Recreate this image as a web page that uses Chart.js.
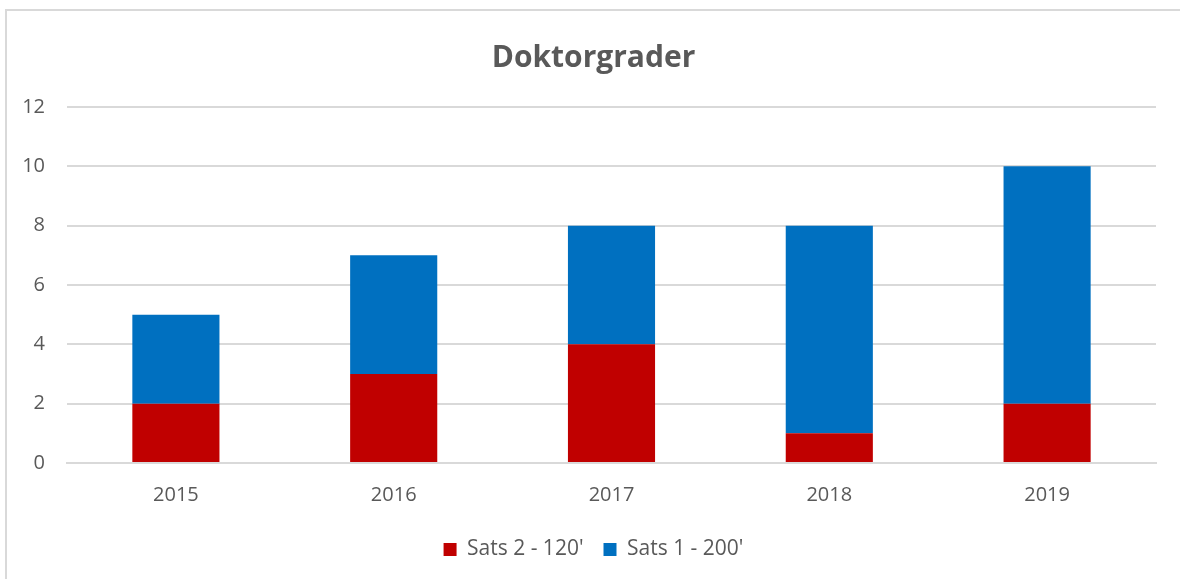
<!DOCTYPE html>
<html>
<head>
<meta charset="utf-8">
<script src="https://cdn.jsdelivr.net/npm/chart.js@4.4.0/dist/chart.umd.min.js"></script>
<style>
  html, body { margin: 0; padding: 0; background: #fff; }
  #wrap { position: absolute; left: 5px; top: 9px; width: 1175px; height: 570px;
          border-left: 2px solid #d9d9d9; border-top: 2px solid #d9d9d9; }
</style>
</head>
<body>
<div id="wrap"><canvas id="myChart" width="1173" height="568"></canvas></div>
<script>
const years = ['2015', '2016', '2017', '2018', '2019'];
const sats2 = [2, 3, 4, 1, 2];
const sats1 = [3, 4, 4, 7, 8];
const yTicks = [0, 2, 4, 6, 8, 10, 12];

const fontFam = "'Open Sans', 'Noto Sans', sans-serif";

new Chart(document.getElementById('myChart'), {
    type: 'bar',
    data: {
        labels: years,
        datasets: [
            { label: "Sats 2 - 120'", data: sats2, backgroundColor: '#C00000' },
            { label: "Sats 1 - 200'", data: sats1, backgroundColor: '#0070C0' }
        ]
    },
    options: {
        responsive: false,
        animation: false,
        layout: { padding: { left: 0, right: 0, top: 0, bottom: 9 } },
        datasets: { bar: { barPercentage: 0.4, categoryPercentage: 1 } },
        plugins: {
            title: {
                display: true,
                text: 'Doktorgrader',
                color: '#595959',
                font: { family: fontFam, size: 30, weight: 'bold' },
                padding: { top: 29, bottom: 31 }
            },
            legend: {
                position: 'bottom',
                labels: {
                    color: '#595959',
                    font: { family: fontFam, size: 21 },
                    boxWidth: 13, boxHeight: 13,
                    padding: 20
                }
            },
            tooltip: { enabled: false }
        },
        scales: {
            x: {
                stacked: true,
                grid: { display: false },
                border: { display: true, color: '#d9d9d9', width: 2 },
                ticks: { color: '#595959', font: { family: fontFam, size: 20 }, padding: 12 }
            },
            y: {
                stacked: true,
                min: 0, max: 12,
                afterBuildTicks: (axis) => { axis.ticks = yTicks.map(v => ({ value: v })); },
                afterFit: (axis) => { axis.width = 60; },
                grid: { color: '#d9d9d9', lineWidth: 2, drawTicks: false },
                border: { display: false },
                ticks: { color: '#595959', font: { family: fontFam, size: 20 }, padding: 22 }
            },
            // empty right-hand spacer so the plot stops short of the right edge
            yRight: {
                position: 'right',
                min: 0, max: 12,
                afterFit: (axis) => { axis.width = 24; },
                grid: { display: false, drawOnChartArea: false },
                border: { display: false },
                ticks: { display: false }
            }
        }
    }
});
</script>
</body>
</html>
